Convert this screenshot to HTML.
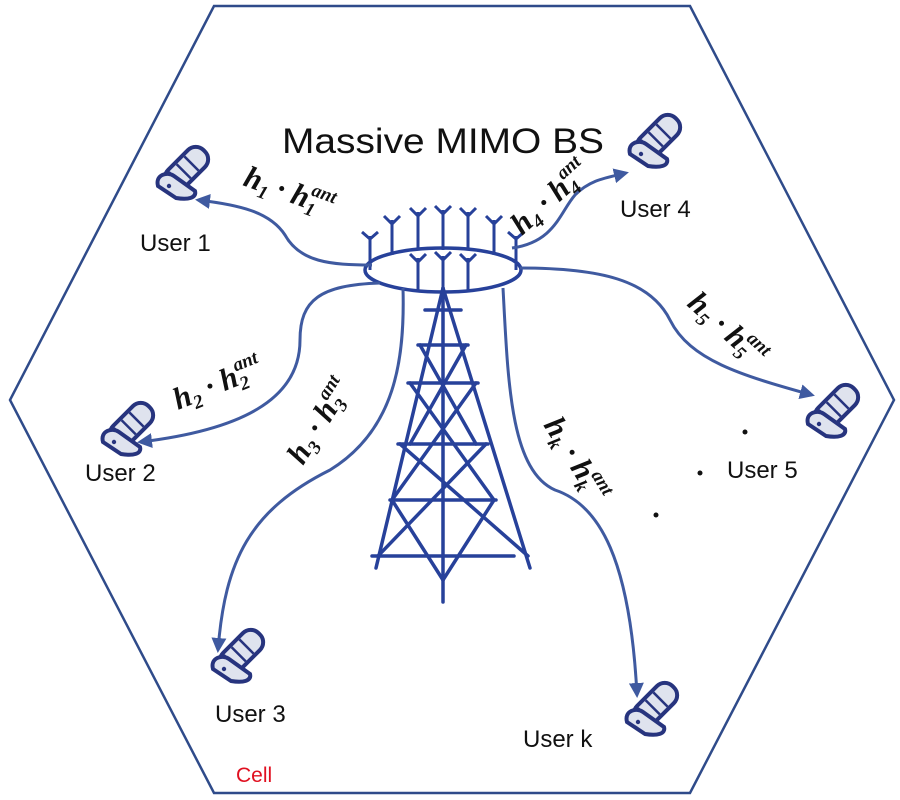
<!DOCTYPE html>
<html><head><meta charset="utf-8"><style>
html,body{margin:0;padding:0;background:#fff;}
svg{display:block}
.lbl{font-family:"Liberation Sans",sans-serif;font-size:24px;fill:#111}
.m{font-family:"Liberation Serif",serif;font-weight:bold;font-style:italic;fill:#111;font-size:31px}
.s{font-size:19px}
</style></head><body>
<svg width="900" height="800" viewBox="0 0 900 800" xmlns="http://www.w3.org/2000/svg">
<defs>
<marker id="ar" viewBox="0 0 10 10" refX="8" refY="5" markerWidth="5" markerHeight="5" orient="auto-start-reverse">
<path d="M0,0 L10,5 L0,10 z" fill="#3f5aa0"/></marker>
<g id="ph">
<g transform="rotate(45)">
<rect x="-12" y="-30" width="24" height="50" rx="11" fill="#dfe3ee" stroke="#27347e" stroke-width="4"/>
<line x1="-10" y1="-12" x2="10" y2="-12" stroke="#27347e" stroke-width="2.5"/>
<line x1="-10" y1="-1" x2="10" y2="-1" stroke="#27347e" stroke-width="2.5"/>
<line x1="-10" y1="10" x2="10" y2="10" stroke="#27347e" stroke-width="2.5"/>
</g>
<path d="M-25,14 C-28,3 -16,-1 -9,4 L12,19 C14,26 5,28 -7,26 Z" fill="#dfe3ee" stroke="#27347e" stroke-width="4"/>
<circle cx="-14" cy="14" r="2.2" fill="#27347e"/>
</g>
</defs>
<polygon points="214,6 690,6 894,400 690,793 214,793 10,400" fill="none" stroke="#2f4b8a" stroke-width="2.5"/>

<g stroke="#27419a" stroke-width="3.5" fill="none" stroke-linecap="round">
<line x1="443" y1="288" x2="376" y2="568"/>
<line x1="443" y1="288" x2="530" y2="568"/>
<line x1="443" y1="288" x2="443" y2="602"/>
<line x1="425" y1="310" x2="461" y2="310"/>
<line x1="418" y1="345" x2="468" y2="345"/>
<line x1="408" y1="383" x2="478" y2="383"/>
<line x1="398" y1="444" x2="488" y2="444"/>
<line x1="390" y1="500" x2="496" y2="500"/>
<line x1="372" y1="556" x2="514" y2="556"/>
<line x1="420" y1="345" x2="476" y2="444"/>
<line x1="466" y1="345" x2="410" y2="444"/>
<line x1="410" y1="383" x2="494" y2="500"/>
<line x1="476" y1="383" x2="392" y2="500"/>
<line x1="400" y1="444" x2="528" y2="556"/>
<line x1="486" y1="444" x2="378" y2="556"/>
<line x1="392" y1="500" x2="443" y2="580"/>
<line x1="494" y1="500" x2="443" y2="580"/>
</g>

<g stroke="#27419a" stroke-width="3" fill="none">
<ellipse cx="443" cy="270" rx="78" ry="22" stroke-width="3.5"/>
<path d="M370,270 V236 M362,232 L370,239 L378,232"/>
<path d="M392,255 V220 M384,216 L392,224 L400,216"/>
<path d="M418,250 V212 M410,208 L418,216 L426,208"/>
<path d="M443,250 V210 M435,206 L443,214 L451,206"/>
<path d="M468,250 V212 M460,208 L468,216 L476,208"/>
<path d="M494,255 V220 M486,216 L494,224 L502,216"/>
<path d="M516,270 V236 M508,232 L516,239 L524,232"/>
<path d="M418,290 V258 M410,254 L418,262 L426,254"/>
<path d="M443,292 V256 M435,252 L443,260 L451,252"/>
<path d="M468,290 V258 M460,254 L468,262 L476,254"/>
</g>

<g stroke="#3f5aa0" stroke-width="3" fill="none" marker-end="url(#ar)">
<path d="M372,265 C330,265 300,262 285,235 C270,212 240,205 198,200"/>
<path d="M512,248 C555,242 560,212 575,195 C590,180 605,178 626,173"/>
<path d="M520,268 C600,268 650,280 670,320 C690,360 740,375 812,395"/>
<path d="M380,283 C320,285 300,300 300,340 C300,400 240,430 140,442"/>
<path d="M403,288 C405,360 395,430 330,470 C250,510 225,560 218,650"/>
<path d="M503,288 C508,380 510,470 555,490 C600,505 630,560 637,695"/>
</g>

<use href="#ph" transform="translate(183,172)"/>
<use href="#ph" transform="translate(655,140)"/>
<use href="#ph" transform="translate(833,410)"/>
<use href="#ph" transform="translate(128,428)"/>
<use href="#ph" transform="translate(238,655)"/>
<use href="#ph" transform="translate(652,708)"/>

<text x="282" y="153" font-family="Liberation Sans,sans-serif" font-size="35" fill="#111" textLength="322" lengthAdjust="spacingAndGlyphs">Massive MIMO BS</text>
<text class="lbl" x="140" y="251">User 1</text>
<text class="lbl" x="620" y="217">User 4</text>
<text class="lbl" x="727" y="478">User 5</text>
<text class="lbl" x="85" y="481">User 2</text>
<text class="lbl" x="215" y="722">User 3</text>
<text class="lbl" x="523" y="747">User k</text>
<text x="236" y="782" font-family="Liberation Sans,sans-serif" font-size="21" fill="#e01020">Cell</text>

<g fill="#111">
<circle cx="745" cy="432" r="2.5"/><circle cx="700" cy="473" r="2.5"/><circle cx="656" cy="515" r="2.5"/>
</g>

<text class="m" transform="translate(242,185) rotate(20)">h<tspan class="s" dy="6">1</tspan><tspan dy="-6"> · h</tspan><tspan class="s" dy="6">1</tspan><tspan class="s" dx="-9" dy="-20">ant</tspan></text>
<text class="m" transform="translate(522,236) rotate(-42)">h<tspan class="s" dy="6">4</tspan><tspan dy="-6"> · h</tspan><tspan class="s" dy="6">4</tspan><tspan class="s" dx="-9" dy="-20">ant</tspan></text>
<text class="m" transform="translate(686,305) rotate(42)">h<tspan class="s" dy="6">5</tspan><tspan dy="-6"> · h</tspan><tspan class="s" dy="6">5</tspan><tspan class="s" dx="-9" dy="-20">ant</tspan></text>
<text class="m" transform="translate(178,410) rotate(-22)">h<tspan class="s" dy="6">2</tspan><tspan dy="-6"> · h</tspan><tspan class="s" dy="6">2</tspan><tspan class="s" dx="-9" dy="-20">ant</tspan></text>
<text class="m" transform="translate(303,466) rotate(-58)">h<tspan class="s" dy="6">3</tspan><tspan dy="-6"> · h</tspan><tspan class="s" dy="6">3</tspan><tspan class="s" dx="-9" dy="-20">ant</tspan></text>
<text class="m" transform="translate(543,425) rotate(58)">h<tspan class="s" dy="6">k</tspan><tspan dy="-6"> · h</tspan><tspan class="s" dy="6">k</tspan><tspan class="s" dx="-9" dy="-20">ant</tspan></text>
</svg>
</body></html>
